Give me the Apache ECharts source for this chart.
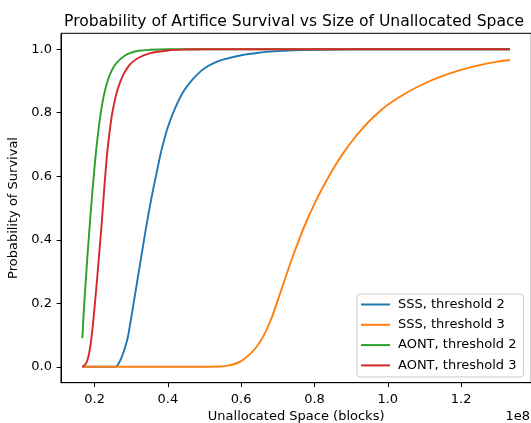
<!DOCTYPE html>
<html>
<head>
<meta charset="utf-8">
<script src="https://cdn.jsdelivr.net/npm/echarts@6/dist/echarts.min.js"></script>
<style>
html,body{margin:0;padding:0;background:#fff;}
#c{width:531px;height:423px;}
</style>
</head>
<body>
<div id="c"></div>
<script>
// Series names
const seriesNames = ['SSS, threshold 2', 'SSS, threshold 3', 'AONT, threshold 2', 'AONT, threshold 3'];

// SSS, threshold 2 (x in blocks)
const sss2X = [0.1667e8, 0.22e8, 0.25e8, 0.26e8, 0.27e8, 0.28e8, 0.29e8, 0.30e8, 0.31e8, 0.32e8, 0.33e8, 0.34e8, 0.35e8, 0.36e8, 0.37e8, 0.38e8, 0.39e8, 0.40e8, 0.42e8, 0.44e8, 0.46e8, 0.48e8, 0.50e8, 0.525e8, 0.55e8, 0.60e8, 0.65e8, 0.70e8, 0.80e8, 0.90e8, 1.3333e8];
const sss2Y = [0, 0, 0, 0.002, 0.02, 0.05, 0.09, 0.155, 0.225, 0.295, 0.365, 0.435, 0.50, 0.56, 0.615, 0.67, 0.715, 0.755, 0.815, 0.862, 0.895, 0.92, 0.94, 0.956, 0.967, 0.981, 0.989, 0.994, 0.998, 1.0, 1.0];

// SSS, threshold 3
const sss3X = [0.1667e8, 0.40e8, 0.54e8, 0.56e8, 0.58e8, 0.60e8, 0.62e8, 0.64e8, 0.66e8, 0.68e8, 0.70e8, 0.72e8, 0.74e8, 0.76e8, 0.78e8, 0.80e8, 0.82e8, 0.84e8, 0.86e8, 0.88e8, 0.90e8, 0.92e8, 0.95e8, 0.98e8, 1.00e8, 1.05e8, 1.10e8, 1.15e8, 1.20e8, 1.25e8, 1.30e8, 1.3333e8];
const sss3Y = [0, 0, 0.001, 0.003, 0.008, 0.018, 0.036, 0.06, 0.095, 0.145, 0.21, 0.278, 0.345, 0.407, 0.463, 0.513, 0.559, 0.601, 0.64, 0.675, 0.707, 0.736, 0.774, 0.806, 0.825, 0.862, 0.892, 0.916, 0.935, 0.95, 0.961, 0.966];

// AONT, threshold 2
const aont2X = [0.1667e8, 0.17e8, 0.175e8, 0.18e8, 0.185e8, 0.19e8, 0.195e8, 0.20e8, 0.205e8, 0.21e8, 0.215e8, 0.22e8, 0.225e8, 0.23e8, 0.24e8, 0.25e8, 0.26e8, 0.28e8, 0.30e8, 0.32e8, 0.35e8, 0.40e8, 1.3333e8];
const aont2Y = [0.09, 0.165, 0.255, 0.34, 0.42, 0.495, 0.565, 0.63, 0.69, 0.74, 0.785, 0.822, 0.853, 0.878, 0.915, 0.94, 0.957, 0.978, 0.989, 0.995, 0.998, 1.0, 1.0];

// AONT, threshold 3
const aont3X = [0.1667e8, 0.175e8, 0.18e8, 0.185e8, 0.19e8, 0.195e8, 0.20e8, 0.205e8, 0.21e8, 0.215e8, 0.22e8, 0.225e8, 0.23e8, 0.235e8, 0.24e8, 0.245e8, 0.25e8, 0.26e8, 0.27e8, 0.28e8, 0.29e8, 0.30e8, 0.32e8, 0.35e8, 0.40e8, 0.45e8, 0.50e8, 1.3333e8];
const aont3Y = [0.0, 0.008, 0.02, 0.042, 0.078, 0.128, 0.188, 0.252, 0.32, 0.39, 0.46, 0.54, 0.615, 0.68, 0.73, 0.775, 0.81, 0.862, 0.897, 0.923, 0.942, 0.956, 0.973, 0.987, 0.996, 0.999, 1.0, 1.0];

// Tick values
const xTickValues = [0.2e8, 0.4e8, 0.6e8, 0.8e8, 1.0e8, 1.2e8];
const yTickValues = [0.0, 0.2, 0.4, 0.6, 0.8, 1.0];

const colors = ['#1f77b4', '#ff7f0e', '#2ca02c', '#d62728'];
const xs = [sss2X, sss3X, aont2X, aont3X];
const ys = [sss2Y, sss3Y, aont2Y, aont3Y];

const FONT = 'DejaVu Sans';
const chart = echarts.init(document.getElementById('c'), null, {renderer: 'canvas'});

const series = seriesNames.map((name, i) => ({
  name: name,
  type: 'line',
  data: xs[i].map((x, j) => [x, ys[i][j]]),
  showSymbol: false,
  symbol: 'none',
  smooth: 0.35,
  lineStyle: {color: colors[i], width: 1.9},
  itemStyle: {color: colors[i]},
  z: 2 + i,
  animation: false
}));

chart.setOption({
  animation: false,
  backgroundColor: '#fff',
  title: {
    text: 'Probability of Artifice Survival vs Size of Unallocated Space',
    left: 59, top: 9,
    textStyle: {fontFamily: FONT, fontSize: 15.6, fontWeight: 'normal', color: '#000'}
  },
  grid: {
    left: 61, top: 33.3, width: 470.3, height: 349.4,
    outerBoundsMode: 'none', containLabel: false,
    show: true, borderColor: '#000', borderWidth: 1, backgroundColor: 'transparent'
  },
  legend: {
    orient: 'vertical', left: 357, top: 294,
    padding: [3.5, 7, 4.5, 4],
    itemWidth: 29, itemHeight: 2, itemGap: 6.3,
    icon: 'rect',
    backgroundColor: 'rgba(255,255,255,0.8)',
    borderColor: '#cccccc', borderWidth: 1, borderRadius: 3,
    textStyle: {fontFamily: FONT, fontSize: 13, color: '#000', lineHeight: 14, padding: [0, 0, 0, 3]},
    data: seriesNames
  },
  xAxis: {
    type: 'value',
    min: 0.108333e8, max: 1.391667e8,
    name: 'Unallocated Space (blocks)',
    nameLocation: 'middle', nameGap: 25,
    nameTextStyle: {fontFamily: FONT, fontSize: 13, color: '#000'},
    axisLine: {show: true, onZero: false, lineStyle: {color: '#000', width: 1}},
    axisTick: {show: true, length: 4.4, customValues: xTickValues, lineStyle: {color: '#000', width: 1}},
    axisLabel: {
      customValues: xTickValues, margin: 10,
      fontFamily: FONT, fontSize: 13, color: '#000',
      formatter: v => (v / 1e8).toFixed(1)
    },
    splitLine: {show: false}
  },
  yAxis: {
    type: 'value',
    min: -0.05, max: 1.05,
    name: 'Probability of Survival',
    nameLocation: 'middle', nameGap: 37,
    nameTextStyle: {fontFamily: FONT, fontSize: 13, color: '#000'},
    axisLine: {show: true, onZero: false, lineStyle: {color: '#000', width: 1}},
    axisTick: {show: true, length: 4.4, customValues: yTickValues, lineStyle: {color: '#000', width: 1}},
    axisLabel: {
      customValues: yTickValues, margin: 9,
      fontFamily: FONT, fontSize: 13, color: '#000',
      formatter: v => v.toFixed(1)
    },
    splitLine: {show: false}
  },
  graphic: [{
    type: 'text', right: 1, top: 410,
    style: {text: '1e8', fontFamily: FONT, fontSize: 13, fill: '#000'}
  }],
  series: series
});
</script>
</body>
</html>
